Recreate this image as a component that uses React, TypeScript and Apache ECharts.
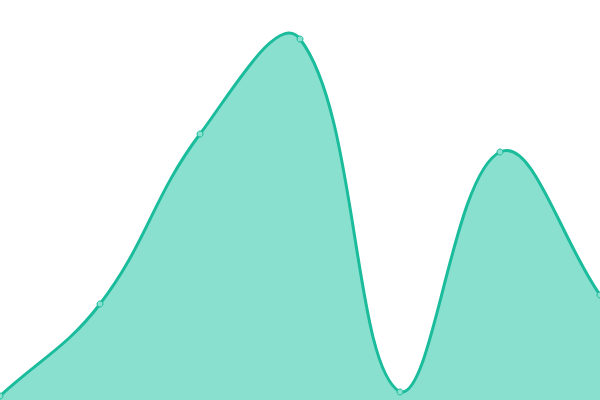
import { useEffect, useRef } from 'react'
import * as echarts from 'echarts'

const categories = ['A', 'B', 'C', 'D', 'E', 'F', 'G']
const values = [4, 96, 266, 361, 8, 248, 105]

const LINE = '#1abc9c'
const FILL = '#8ae0cf'
const TENSION = 0.4

type Pt = { x: number; y: number; cpPrev?: Pt; cpNext?: Pt }

// cardinal spline control points, clamped to the plot area
const buildCurve = (pts: Pt[], area: { x: number; y: number; width: number; height: number }) => {
  const clamp = (p: Pt) => ({
    x: Math.min(Math.max(p.x, area.x), area.x + area.width),
    y: Math.min(Math.max(p.y, area.y), area.y + area.height)
  })
  pts.forEach((cur, i) => {
    const prev = pts[i - 1] || cur
    const next = pts[i + 1] || cur
    const d01 = Math.hypot(cur.x - prev.x, cur.y - prev.y)
    const d12 = Math.hypot(next.x - cur.x, next.y - cur.y)
    let s01 = d01 / (d01 + d12)
    let s12 = d12 / (d01 + d12)
    if (isNaN(s01)) s01 = 0
    if (isNaN(s12)) s12 = 0
    const fa = TENSION * s01
    const fb = TENSION * s12
    cur.cpPrev = clamp({ x: cur.x - fa * (next.x - prev.x), y: cur.y - fa * (next.y - prev.y) })
    cur.cpNext = clamp({ x: cur.x + fb * (next.x - prev.x), y: cur.y + fb * (next.y - prev.y) })
  })
  let d = `M${pts[0].x},${pts[0].y}`
  for (let i = 1; i < pts.length; i++) {
    const a = pts[i - 1].cpNext!
    const b = pts[i].cpPrev!
    d += ` C${a.x},${a.y} ${b.x},${b.y} ${pts[i].x},${pts[i].y}`
  }
  return d
}

const App = () => {
  const chartRef = useRef<HTMLDivElement | null>(null)

  useEffect(() => {
    if (!chartRef.current) return
    const chart = echarts.init(chartRef.current, null, { renderer: 'svg' })

    chart.setOption({
      animation: false,
      grid: { left: 0, right: 0, top: 0, bottom: 0 },
      xAxis: {
        type: 'category',
        data: categories,
        boundaryGap: false,
        show: false
      },
      yAxis: {
        type: 'value',
        min: 0,
        max: 400,
        show: false
      },
      series: [
        {
          type: 'custom',
          data: [0],
          z: 1,
          silent: true,
          renderItem: (params: any, api: any) => {
            if (params.dataIndex !== 0) return null
            const pts: Pt[] = values.map((v, i) => {
              const c = api.coord([i, v])
              return { x: c[0], y: c[1] }
            })
            const bottom = api.coord([0, 0])[1]
            const line = buildCurve(pts, params.coordSys)
            const area = `${line} L${pts[pts.length - 1].x},${bottom} L${pts[0].x},${bottom} Z`
            return {
              type: 'group',
              children: [
                { type: 'path', shape: { pathData: area }, style: { fill: FILL, stroke: 'none' } },
                { type: 'path', shape: { pathData: line }, style: { fill: 'none', stroke: LINE, lineWidth: 3 } }
              ]
            }
          }
        },
        {
          type: 'scatter',
          data: values,
          z: 3,
          symbol: 'circle',
          symbolSize: 6,
          itemStyle: { color: FILL, borderColor: LINE, borderWidth: 1, opacity: 1 }
        }
      ]
    })

    return () => {
      chart.dispose()
    }
  }, [])

  return (
    <div
      ref={chartRef}
      style={{ position: 'absolute', left: 0, top: 0, width: 600, height: 400 }}
    />
  )
}

export default App
